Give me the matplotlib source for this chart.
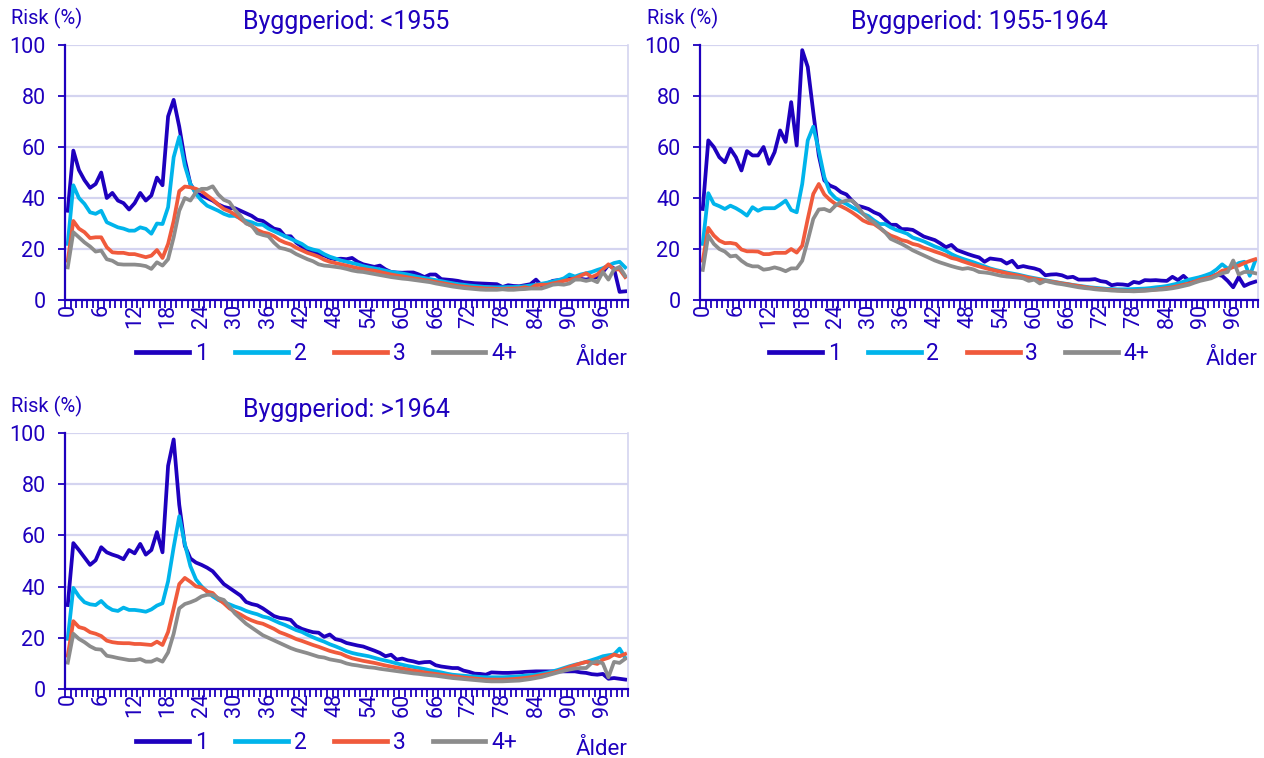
import matplotlib
matplotlib.use("Agg")
import matplotlib.pyplot as plt
from matplotlib.ticker import FixedLocator

plt.rcParams['font.family'] = ['Roboto', 'DejaVu Sans']

ages = list(range(101))
age_labels = list(range(0, 97, 6))
series_names = ["1", "2", "3", "4+"]
titles = ["Byggperiod: <1955", "Byggperiod: 1955-1964", "Byggperiod: >1964"]

# Byggperiod <1955
p1_s1 = [35, 58.6, 51, 47, 44, 45.5, 50, 40, 42, 39,
         38, 35.5, 38, 42, 39, 41, 48, 45, 72, 78.5,
         68, 55, 45.5, 42, 41, 40, 39, 37.5, 36.5, 36,
         36, 35, 34, 33, 31.5, 31, 29.5, 28, 27.5, 25,
         25, 22.5, 21, 19.5, 19, 18, 17.5, 16.5, 16, 16.2,
         16, 16.5, 15, 14, 13.5, 13, 13.5, 12, 11, 10.8,
         10.7, 10.8, 10.8, 10, 9, 10, 10, 8.2, 8, 7.8,
         7.5, 7, 6.8, 6.6, 6.5, 6.4, 6.3, 6.2, 5.1, 5.8,
         5.5, 5.4, 5.8, 6.2, 8, 5.7, 6.5, 7.5, 7.8, 8,
         8.5, 8.7, 8.3, 8, 8.5, 9, 11, 13.7, 12.4, 3.2,
         3.4]
p1_s2 = [22, 45, 40, 37.7, 34.4, 33.8, 35, 30.5, 29.5, 28.5,
         28, 27.2, 27.2, 28.5, 27.9, 26, 30, 29.8, 36.4, 56,
         64, 52.7, 45.5, 41.6, 39, 37, 36, 35, 33.8, 33,
         33, 32, 31, 30.5, 29.6, 29.5, 28, 27, 26, 25,
         24, 23, 22, 20.5, 19.8, 19.3, 18, 17, 16.3, 15.5,
         15, 14.5, 14, 13.3, 12.8, 12.4, 12, 11.5, 11, 10.7,
         10.4, 10, 9.5, 9, 8.6, 8.2, 7.8, 7.4, 7, 6.6,
         6.2, 6, 5.7, 5.5, 5.3, 5.1, 5, 5, 5, 5.1,
         5.1, 5.2, 5.4, 5.7, 6, 6.4, 6.8, 7.3, 7.8, 8.5,
         10, 9.2, 10, 10.5, 11, 11.8, 12.5, 13.5, 14.5, 15,
         12.8]
p1_s3 = [15.4, 31, 28, 26.6, 24.3, 24.6, 24.6, 20.7, 18.7, 18.5,
         18.5, 18, 18, 17.4, 16.8, 17.4, 19.6, 16.5, 22, 31,
         42.7, 44.5, 44.2, 43.6, 42.7, 41, 39.4, 37.4, 35.7, 34.8,
         33.5, 31.8, 30.2, 29, 27.5, 26.5, 26, 25, 23.5, 22.5,
         21.8, 20.5, 19.5, 18.5, 17.8, 17, 15.8, 15, 14.5, 14,
         13.5, 13, 12.5, 12.2, 11.8, 11.5, 11, 10.5, 10, 9.6,
         9.3, 8.9, 8.5, 8.2, 7.8, 7.5, 7.1, 6.7, 6.3, 5.9,
         5.5, 5.3, 5, 4.8, 4.7, 4.5, 4.5, 4.4, 4.4, 4.5,
         4.5, 4.6, 5, 4.6, 5.8, 6, 6, 6.5, 7, 7.5,
         8, 8.5, 9.5, 10.5, 9, 10, 12, 14, 12, 12,
         9]
p1_s4 = [12.8, 26.6, 24.6, 22.6, 21, 19, 19.4, 16, 15.4, 14.1,
         13.9, 13.9, 13.9, 13.7, 13.3, 12.2, 14.8, 13.5, 16, 24.6,
         35, 40, 39, 42.3, 43.6, 43.6, 44.6, 41.4, 39.3, 38.4,
         35.3, 33, 30, 29.2, 26.2, 25.5, 25, 22.5, 20.5, 20,
         19.3, 18, 17, 16, 15.2, 14, 13.5, 13.3, 13, 12.7,
         12.2, 11.6, 11.2, 11, 10.6, 10.2, 9.8, 9.4, 9, 8.7,
         8.4, 8.2, 7.9, 7.6, 7.3, 7, 6.5, 6.1, 5.7, 5.3,
         5, 4.7, 4.5, 4.3, 4.1, 4, 4, 4, 4.2, 4,
         4, 4.2, 4.3, 4.5, 4.5, 4.5, 5.2, 6, 6.2, 6,
         6.5, 8, 8, 7.5, 8, 7, 11, 8, 12, 13,
         9.5]

# Byggperiod 1955-1964
p2_s1 = [35.7, 62.6, 60, 56, 54, 59.3, 56, 50.8, 58.4, 56.7,
         56.7, 60, 53.4, 58, 66.5, 62, 77.6, 60.6, 98, 91.4,
         73.7, 56.7, 46.9, 44.9, 44, 42.3, 41.4, 39, 37, 36.4,
         35.7, 34.4, 33.5, 31.5, 29.5, 29.5, 27.8, 27.8, 27.5, 26.2,
         24.9, 24.2, 23.5, 22.2, 20.7, 21.6, 19.6, 18.8, 18, 17.3,
         16.7, 15, 16.3, 16, 15.7, 14.3, 15.4, 12.8, 13.3, 12.8,
         12.4, 11.7, 9.7, 10, 10.1, 9.7, 8.8, 9.1, 8, 8,
         8, 8.2, 7.4, 7.1, 5.8, 6.2, 6.1, 5.8, 7.1, 6.7,
         7.8, 7.7, 7.8, 7.6, 7.5, 9.1, 7.8, 9.5, 7.5, 8,
         8.8, 9.1, 9.1, 10, 9.5, 7.5, 5, 9, 5.5, 6.5,
         7.2]
p2_s2 = [22, 41.9, 37.7, 36.8, 35.7, 37, 36, 34.7, 33.1, 36.4,
         35, 36, 36, 36, 37.4, 39, 35.3, 34.4, 45.5, 62.6,
         68, 58.6, 48.2, 42.3, 40, 38.7, 37.7, 36.4, 35.3, 33.8,
         32.9, 31.2, 29.8, 29.8, 28.5, 27.5, 26.8, 26, 24.5, 23.8,
         23, 22, 21, 20.2, 19.3, 18, 17, 16.2, 15.5, 14.8,
         14, 13.2, 12.4, 11.8, 11.3, 10.8, 10.4, 10, 9.5, 9,
         8.6, 8.2, 7.8, 7.4, 7, 6.6, 6.3, 5.9, 5.6, 5.3,
         5, 4.8, 4.6, 4.4, 4.3, 4.2, 4.2, 4.2, 4.3, 4.4,
         4.5, 4.7, 5, 5.2, 5.5, 6, 6.5, 7.2, 8, 8.5,
         9, 9.7, 10.5, 12, 14, 12.3, 13, 14.5, 15, 9.5,
         15.5]
p2_s3 = [15.4, 28.3, 25.3, 23.3, 22.3, 22.4, 22, 19.8, 19.1, 19.1,
         19, 18, 18, 18.5, 18.5, 18.5, 20, 18.6, 21.3, 31.8,
         41.6, 45.5, 41.4, 39.3, 37.7, 36.8, 35.7, 34.4, 32.9, 31.2,
         30.2, 29.8, 28.3, 26.6, 25.3, 24.5, 23.5, 23, 22, 21.5,
         20.5, 19.8, 19, 18.3, 17.5, 16.5, 16, 15.2, 14.5, 13.8,
         13.2, 12.6, 12, 11.5, 11, 10.5, 10, 9.6, 9.2, 8.7,
         8.3, 7.9, 7.6, 7.2, 6.9, 6.5, 6.2, 5.8, 5.5, 5.1,
         4.8, 4.5, 4.3, 4.1, 4, 3.8, 3.7, 3.6, 3.6, 3.7,
         3.8, 3.9, 4.1, 4.4, 4.7, 5, 5.5, 6, 6.5, 7.2,
         8, 8.5, 9, 10, 11.5, 12, 13, 13.5, 14.5, 15.3,
         16]
p2_s4 = [11.8, 25.3, 22, 20, 19, 17.1, 17.4, 15.4, 13.9, 13.2,
         13.2, 11.9, 12.2, 12.8, 12.2, 11.3, 12.4, 12.4, 15.4, 23.3,
         31.8, 35.5, 35.7, 34.8, 37, 38.4, 39, 39, 37, 33.8,
         31.8, 30.5, 28.5, 26.6, 24, 23, 22, 20.8, 19.5, 18.5,
         17.5, 16.5, 15.5, 14.7, 14, 13.3, 12.7, 12.2, 12.5, 12,
         11, 10.8, 10.5, 10, 9.5, 9.2, 9, 8.8, 8.5, 7.5,
         8, 6.5, 7.5, 7, 6.5, 6.2, 5.8, 5.4, 5, 4.7,
         4.5, 4.2, 4, 3.9, 3.7, 3.6, 3.5, 3.5, 3.4, 3.5,
         3.6, 3.8, 4, 4.1, 4.3, 4.6, 5, 5.5, 6, 6.8,
         7.5, 8, 8.5, 9.5, 10.5, 11, 15.5, 10, 11, 11,
         10.5]

# Byggperiod >1964
p3_s1 = [32.8, 57, 54.3, 51.4, 48.5, 50.3, 55.4, 53.4, 52.5, 51.8,
         50.7, 54.3, 53, 56.7, 52.5, 54.3, 61.3, 53.4, 87.2, 97.5,
         72, 56, 51, 49.4, 48.5, 47.4, 46, 43.5, 41, 39.5,
         38, 36.5, 34, 33.2, 32.7, 31.5, 30, 28.5, 27.8, 27.5,
         27, 24.6, 23.5, 22.8, 22.2, 22, 20.4, 21.3, 19.5, 19,
         18, 17.5, 17, 16.6, 15.8, 15, 14.1, 12.8, 13.4, 11.5,
         11.9, 11.2, 10.8, 10.2, 10.5, 10.6, 9.3, 8.8, 8.5, 8.2,
         8.2, 7.2, 6.7, 6, 5.9, 5.6, 6.5, 6.4, 6.3, 6.3,
         6.4, 6.5, 6.7, 6.8, 6.9, 6.9, 6.9, 6.9, 6.9, 6.9,
         6.9, 6.9, 6.5, 6.3, 5.8, 5.6, 5.9, 4, 4.3, 4,
         3.7]
p3_s2 = [19.6, 39.5, 36.2, 33.9, 33.1, 32.8, 34.4, 32.2, 30.9, 30.5,
         31.8, 30.9, 30.9, 30.6, 30.2, 31.1, 32.6, 33.5, 42.1, 55.4,
         67.5, 56.7, 48, 42.8, 40.1, 38.1, 36.2, 34.8, 33.9, 33.1,
         32.2, 31.5, 30.5, 29.8, 29.2, 28.3, 27.8, 26.8, 25.8, 25,
         24, 23, 22.3, 21.2, 20.2, 19.3, 18.5, 17.5, 16.7, 15.8,
         14.8, 14.1, 13.6, 13.2, 12.8, 12.2, 11.6, 11.1, 10.6, 10,
         9.5, 9, 8.6, 8.2, 7.8, 7.3, 6.9, 6.5, 6, 5.6,
         5.4, 5.2, 5, 4.9, 4.7, 4.6, 4.6, 4.6, 4.6, 4.7,
         4.8, 5, 5.2, 5.4, 5.6, 6, 6.4, 6.9, 7.5, 8.2,
         8.9, 9.5, 10, 10.6, 11.3, 12, 12.8, 13.2, 13.5, 15.8,
         12.2]
p3_s3 = [13, 26.5, 24.2, 23.6, 22.2, 21.6, 20.7, 18.9, 18.3, 18,
         17.9, 17.9, 17.6, 17.6, 17.4, 17.2, 18.5, 17.2, 22.3, 31.5,
         41, 43.4, 41.9, 40.1, 39.7, 38.1, 37.5, 35.2, 33.5, 31.5,
         30.2, 29.1, 27.8, 26.8, 26, 25.5, 24.5, 23.5, 22.2, 21.4,
         20.5, 19.5, 18.8, 18, 17.2, 16.5, 15.7, 14.9, 14.3, 13.8,
         12.8, 12, 11.5, 11, 10.6, 10.2, 9.7, 9.2, 8.8, 8.4,
         8, 7.6, 7.2, 6.9, 6.5, 6.2, 5.9, 5.6, 5.3, 5,
         4.8, 4.5, 4.3, 4.1, 3.9, 3.7, 3.7, 3.7, 3.7, 3.8,
         3.9, 4.1, 4.3, 4.6, 5, 5.4, 5.8, 6.3, 7, 7.8,
         8.6, 9.3, 10, 10.6, 10.3, 9.8, 11.5, 12.2, 13.5, 12.8,
         13.7]
p3_s4 = [10.3, 21.6, 19.6, 18.3, 16.7, 15.6, 15.4, 13, 12.6, 12.1,
         11.7, 11.3, 11.3, 11.7, 10.7, 10.7, 11.7, 10.7, 14.3, 21.6,
         31.5, 33.2, 33.9, 34.8, 36.2, 36.8, 36.8, 35.5, 34.8, 32.2,
         29.5, 27.5, 25.5, 24, 22.5, 21, 20, 19, 18, 17,
         16, 15.2, 14.6, 14, 13.3, 12.6, 12.3, 11.6, 11.2, 10.8,
         10, 9.5, 9.2, 8.8, 8.5, 8.3, 7.9, 7.6, 7.3, 7,
         6.7, 6.4, 6.1, 5.9, 5.6, 5.4, 5.2, 4.9, 4.6, 4.3,
         4.1, 3.9, 3.7, 3.5, 3.3, 3.1, 3, 3, 3, 3.1,
         3.2, 3.3, 3.6, 3.9, 4.3, 4.7, 5.3, 5.9, 6.5, 7.1,
         7.6, 8, 8.2, 8.2, 10.2, 10.8, 10, 4.6, 10.6, 10.2,
         11.8]

farger = ["#1E00BE", "#00B4EB", "#F05A3C", "#8C8C8C"]
TEXT = "#1E00BE"
GRID = "#D4D4F0"


def rita_panel(fig, rect, titel, serier):
    ax = fig.add_axes(rect)
    for s, namn, c in zip(serier, series_names, farger):
        ax.plot(ages, s, color=c, lw=2.7, label=namn, solid_joinstyle='round')

    ax.set_xlim(-0.5, 100.5)
    ax.set_ylim(0, 100)
    ax.set_yticks([0, 20, 40, 60, 80, 100])
    ax.yaxis.grid(True, color=GRID, lw=1.6)
    ax.set_axisbelow(True)

    ax.set_xticks(age_labels)
    ax.set_xticklabels([str(a) for a in age_labels], rotation=90)
    ax.xaxis.set_minor_locator(FixedLocator([a - 0.5 for a in range(102)]))
    ax.tick_params(axis='x', which='major', length=0, pad=3, labelsize=15.5, labelcolor=TEXT)
    ax.tick_params(axis='x', which='minor', length=6, width=1.3, color=TEXT, direction='out')
    ax.tick_params(axis='y', length=5, width=1.3, color=TEXT, labelsize=15.5, labelcolor=TEXT, pad=9)

    for side in ['left', 'bottom']:
        ax.spines[side].set_color(TEXT)
        ax.spines[side].set_linewidth(1.6)
    ax.spines['top'].set_visible(False)
    ax.spines['right'].set_color(GRID)
    ax.spines['right'].set_linewidth(1.2)

    ax.text(0.5, 1.09, titel, transform=ax.transAxes, ha='center', va='center',
            fontsize=18, color=TEXT)
    ax.text(-0.095, 1.105, "Risk (%)", transform=ax.transAxes, ha='left', va='center',
            fontsize=14.5, color=TEXT)
    ax.text(1.0, -0.235, "Ålder", transform=ax.transAxes, ha='right', va='center',
            fontsize=16, color=TEXT)

    leg = ax.legend(loc='center', bbox_to_anchor=(0.465, -0.21), ncol=4, frameon=False,
                    handlelength=2.3, handletextpad=0.25, columnspacing=1.2, fontsize=16.5)
    for t in leg.get_texts():
        t.set_color(TEXT)
    for l in leg.get_lines():
        l.set_linewidth(3.4)
    return ax


fig = plt.figure(figsize=(12.64, 7.58), dpi=100)
rita_panel(fig, [0.0514, 0.6042, 0.4454, 0.3364], titles[0], [p1_s1, p1_s2, p1_s3, p1_s4])
rita_panel(fig, [0.5538, 0.6042, 0.4415, 0.3364], titles[1], [p2_s1, p2_s2, p2_s3, p2_s4])
rita_panel(fig, [0.0514, 0.0910, 0.4454, 0.3377], titles[2], [p3_s1, p3_s2, p3_s3, p3_s4])

fig.savefig("out.png", dpi=100)
